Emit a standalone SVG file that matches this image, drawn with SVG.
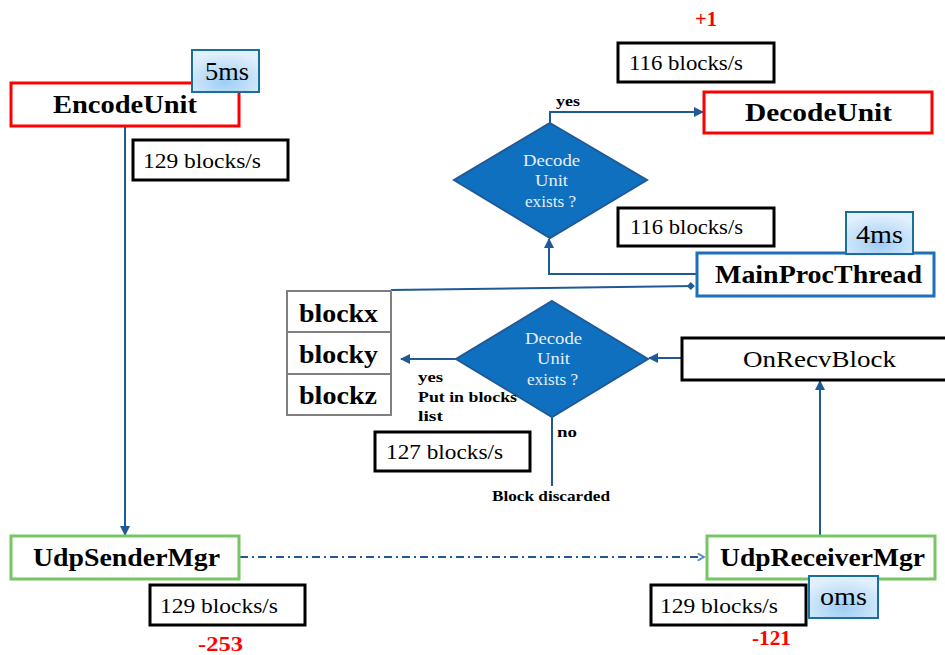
<svg xmlns="http://www.w3.org/2000/svg" width="945" height="655" viewBox="0 0 945 655">
<defs>
<radialGradient id="tg" cx="0.5" cy="0.75" r="0.7">
<stop offset="0" stop-color="#9ECDF5"/><stop offset="1" stop-color="#E2F0FC"/>
</radialGradient>
<marker id="arr" viewBox="0 0 10 10" refX="9" refY="5" markerWidth="5" markerHeight="5" orient="auto"><path d="M0,0 L10,5 L0,10 z" fill="#1F5A96"/></marker>
<marker id="open" viewBox="0 0 10 10" refX="8" refY="5" markerWidth="5" markerHeight="5" orient="auto"><path d="M1,1 L8,5 L1,9" fill="none" stroke="#5A8FC4" stroke-width="2"/></marker>
<marker id="dia" viewBox="0 0 10 10" refX="9" refY="5" markerWidth="4" markerHeight="5" orient="auto"><path d="M0,5 L5,0 L10,5 L5,10 z" fill="#1F5A96"/></marker>
</defs>
<style>
text{font-family:"Liberation Serif","DejaVu Serif",serif;fill:#000}
.n{font-size:25px;font-weight:bold}
.rate{font-size:20px}
.rb{fill:#fff;stroke:#000;stroke-width:3}
.red{fill:#fff;stroke:#F00;stroke-width:3}
.grn{fill:#fff;stroke:#77C663;stroke-width:3}
.blu{fill:#fff;stroke:#1C6FB9;stroke-width:3}
.tag{fill:url(#tg);stroke:#1A7098;stroke-width:2}
.tagt{font-size:25px}
.dm{fill:#1070C0;stroke:#1F5A96;stroke-width:2}
.dt{fill:#E6EEF7;font-size:16px}
.lbl{font-size:15px;font-weight:bold}
.delta{fill:#F00;font-size:21px;font-weight:bold}
.c{fill:none;stroke:#1F5A96;stroke-width:2}
.cell{fill:#fff;stroke:#7F7F7F;stroke-width:2}
.bt{font-size:26px;font-weight:bold}
</style>
<g id="connectors">
<line class="c" x1="125" y1="127" x2="125" y2="535" marker-end="url(#arr)"/>
<line x1="240" y1="557" x2="704" y2="557" stroke="#1F5A96" stroke-width="1.8" stroke-dasharray="8,4,2,4" marker-end="url(#open)"/>
<line class="c" x1="820" y1="535" x2="820" y2="381" marker-end="url(#arr)"/>
<line class="c" x1="682" y1="358" x2="649" y2="358" marker-end="url(#arr)"/>
<line class="c" x1="456" y1="359" x2="401" y2="359" marker-end="url(#arr)"/>
<line class="c" x1="552" y1="417" x2="552" y2="486"/>
<line class="c" x1="391" y1="290" x2="694" y2="286" marker-end="url(#dia)"/>
<polyline class="c" points="697,274 549,274 549,239" marker-end="url(#arr)"/>
<polyline class="c" points="550,123 550,112 703,112" marker-end="url(#arr)"/>
</g>
<g id="EncodeUnit"><rect class="red" x="11" y="83" width="228" height="43"/><text class="n" x="53" y="113" textLength="144" lengthAdjust="spacingAndGlyphs">EncodeUnit</text></g>
<g id="tag5ms"><rect class="tag" x="192" y="50" width="67" height="42"/><text class="tagt" x="205" y="80" textLength="44" lengthAdjust="spacingAndGlyphs">5ms</text></g>
<g id="rate1"><rect class="rb" x="133" y="140" width="155" height="40"/><text class="rate" x="143" y="168" textLength="118" lengthAdjust="spacingAndGlyphs">129 blocks/s</text></g>
<g id="UdpSenderMgr"><rect class="grn" x="11" y="536" width="228" height="43"/><text class="n" x="33" y="566" textLength="187" lengthAdjust="spacingAndGlyphs">UdpSenderMgr</text></g>
<g id="rate2"><rect class="rb" x="150" y="585" width="155" height="40"/><text class="rate" x="160" y="613" textLength="118" lengthAdjust="spacingAndGlyphs">129 blocks/s</text></g>
<text class="delta" x="198" y="651" textLength="45" lengthAdjust="spacingAndGlyphs">-253</text>
<g id="UdpReceiverMgr"><rect class="grn" x="707" y="536" width="228" height="43"/><text class="n" x="720" y="566" textLength="205" lengthAdjust="spacingAndGlyphs">UdpReceiverMgr</text></g>
<g id="rate3"><rect class="rb" x="651" y="585" width="155" height="40"/><text class="rate" x="660" y="613" textLength="118" lengthAdjust="spacingAndGlyphs">129 blocks/s</text></g>
<g id="tag0ms"><rect class="tag" x="809" y="576" width="69" height="42"/><text class="tagt" x="820" y="605" textLength="47" lengthAdjust="spacingAndGlyphs">oms</text></g>
<text class="delta" x="752" y="645" textLength="39" lengthAdjust="spacingAndGlyphs">-121</text>
<g id="OnRecvBlock"><rect class="rb" x="682" y="338" width="265" height="42"/><text x="743" y="367" font-size="24" textLength="153" lengthAdjust="spacingAndGlyphs">OnRecvBlock</text></g>
<g id="decision2"><polygon class="dm" points="552,301 648,359 552,417 456,359"/><text class="dt" x="525" y="344" textLength="57" lengthAdjust="spacingAndGlyphs">Decode</text><text class="dt" x="537" y="364" textLength="33" lengthAdjust="spacingAndGlyphs">Unit</text><text class="dt" x="527" y="385" textLength="51" lengthAdjust="spacingAndGlyphs">exists ?</text></g>
<g id="blocks">
<rect class="cell" x="287" y="291" width="104" height="41"/><text class="bt" x="299" y="322" textLength="79" lengthAdjust="spacingAndGlyphs">blockx</text>
<rect class="cell" x="287" y="332" width="104" height="42"/><text class="bt" x="299" y="363" textLength="79" lengthAdjust="spacingAndGlyphs">blocky</text>
<rect class="cell" x="287" y="374" width="104" height="41"/><text class="bt" x="299" y="404" textLength="78" lengthAdjust="spacingAndGlyphs">blockz</text>
</g>
<text class="lbl" x="418" y="382" textLength="25" lengthAdjust="spacingAndGlyphs">yes</text>
<text class="lbl" x="418" y="402" textLength="99" lengthAdjust="spacingAndGlyphs">Put in blocks</text>
<text class="lbl" x="418" y="421" textLength="25" lengthAdjust="spacingAndGlyphs">list</text>
<text class="lbl" x="557" y="437" textLength="20" lengthAdjust="spacingAndGlyphs">no</text>
<text class="lbl" x="492" y="501" textLength="118" lengthAdjust="spacingAndGlyphs">Block discarded</text>
<g id="rate4"><rect class="rb" x="375" y="432" width="155" height="39"/><text class="rate" x="386" y="459" textLength="117" lengthAdjust="spacingAndGlyphs">127 blocks/s</text></g>
<g id="MainProcThread"><rect class="blu" x="697" y="253" width="237" height="43"/><text class="n" x="715" y="283" textLength="207" lengthAdjust="spacingAndGlyphs">MainProcThread</text></g>
<g id="tag4ms"><rect class="tag" x="846" y="212" width="67" height="42"/><text class="tagt" x="856" y="243" textLength="47" lengthAdjust="spacingAndGlyphs">4ms</text></g>
<g id="decision1"><polygon class="dm" points="550,123 647,180 550,238 454,180"/><text class="dt" x="523" y="166" textLength="57" lengthAdjust="spacingAndGlyphs">Decode</text><text class="dt" x="535" y="186" textLength="33" lengthAdjust="spacingAndGlyphs">Unit</text><text class="dt" x="525" y="207" textLength="51" lengthAdjust="spacingAndGlyphs">exists ?</text></g>
<g id="rate5"><rect class="rb" x="618" y="208" width="156" height="38"/><text class="rate" x="630" y="234" textLength="113" lengthAdjust="spacingAndGlyphs">116 blocks/s</text></g>
<text class="lbl" x="556" y="106" textLength="24" lengthAdjust="spacingAndGlyphs">yes</text>
<g id="DecodeUnit"><rect class="red" x="704" y="92" width="228" height="41"/><text class="n" x="745" y="121" textLength="147" lengthAdjust="spacingAndGlyphs">DecodeUnit</text></g>
<g id="rate6"><rect class="rb" x="618" y="43" width="156" height="39"/><text class="rate" x="629" y="70" textLength="114" lengthAdjust="spacingAndGlyphs">116 blocks/s</text></g>
<text class="delta" x="695" y="26" textLength="22" lengthAdjust="spacingAndGlyphs">+1</text>
</svg>
